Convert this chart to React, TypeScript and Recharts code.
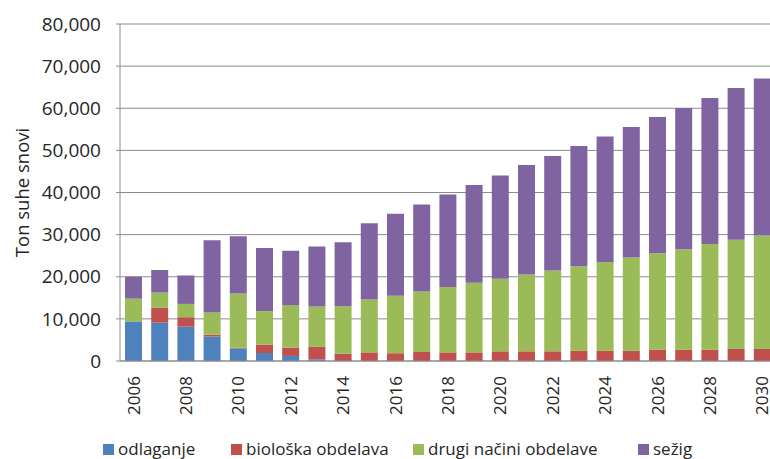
import React from 'react';
import { BarChart, Bar, XAxis, YAxis, CartesianGrid, Legend, Label } from 'recharts';

const years = ['2006','2007','2008','2009','2010','2011','2012','2013','2014','2015','2016','2017','2018','2019','2020','2021','2022','2023','2024','2025','2026','2027','2028','2029','2030'];
const odlaganje = [9400, 9100, 8150, 5800, 3000, 1900, 1200, 400, 0, 0, 0, 0, 0, 0, 0, 0, 0, 0, 0, 0, 0, 0, 0, 0, 0];
const bioloska = [0, 3500, 2250, 450, 150, 2000, 2000, 2950, 1700, 2050, 1850, 2150, 2050, 2050, 2300, 2300, 2300, 2450, 2450, 2450, 2700, 2700, 2700, 2850, 2850];
const drugi = [5400, 3650, 3150, 5350, 12850, 7950, 10050, 9600, 11300, 12550, 13650, 14350, 15500, 16500, 17200, 18250, 19200, 20050, 21050, 22100, 22900, 23850, 25050, 25950, 26950];
const sezig = [5200, 5350, 6750, 17050, 13600, 14950, 12950, 14250, 15200, 18100, 19450, 20650, 21950, 23250, 24550, 25950, 27150, 28550, 29800, 31000, 32300, 33500, 34700, 36000, 37250];
const yTicks = [0, 10000, 20000, 30000, 40000, 50000, 60000, 70000, 80000];

const seriesNames = ['odlaganje', 'biološka obdelava', 'drugi načini obdelave', 'sežig'];
const seriesKeys = ['odlaganje', 'bioloska', 'drugi', 'sezig'];
const seriesColors = ['#4f81bd', '#c0504d', '#9bbb59', '#8064a2'];
const legendLeft = [103, 231, 413, 638];

const data = years.map((y, i) => ({
  year: y,
  odlaganje: odlaganje[i],
  bioloska: bioloska[i],
  drugi: drugi[i],
  sezig: sezig[i],
}));

const FONT = '"Open Sans", sans-serif';
const TEXT = '#262626';
const GRID = '#8c8c8c';

const XTick = (props: any) => {
  const { x, y, payload } = props;
  return (
    <g transform={`translate(${x},${y})`}>
      <text transform="rotate(-90)" x={0} y={0} textAnchor="end" dominantBaseline="central"
        fontFamily={FONT} fontSize={17} fill={TEXT}>{payload.value}</text>
    </g>
  );
};

const LegendContent = () => (
  <div style={{ position: 'relative', width: 770, height: 38 }}>
    {seriesNames.map((n, i) => (
      <div key={n} style={{ position: 'absolute', left: legendLeft[i], top: 18, height: 20, lineHeight: '20px', display: 'flex', alignItems: 'center', fontFamily: FONT, fontSize: 17, color: TEXT, whiteSpace: 'nowrap' }}>
        <span style={{ display: 'inline-block', width: 11, height: 11, background: seriesColors[i], marginRight: 4 }} />
        <span style={{ lineHeight: '20px' }}>{n}</span>
      </div>
    ))}
  </div>
);

export default function App() {
  return (
    <div style={{ position: 'absolute', left: 0, top: 0, width: 770, height: 459, overflow: 'hidden', background: '#fff' }}>
      <BarChart width={775} height={459} data={data} margin={{ top: 24, right: 0, left: 0, bottom: 0 }} barSize={17}>
        <CartesianGrid horizontal={true} vertical={false} stroke={GRID} strokeWidth={1} />
        <XAxis dataKey="year" interval={1} tickLine={false} tickSize={0} tickMargin={15} height={60}
          axisLine={{ stroke: GRID }} tick={<XTick />} />
        <YAxis domain={[0, 80000]} ticks={yTicks} width={120} tickSize={4} tickMargin={15}
          axisLine={{ stroke: GRID }} tickLine={{ stroke: GRID }}
          tick={{ fontFamily: FONT, fontSize: 19, fill: TEXT }}
          tickFormatter={(v: number) => v.toLocaleString('en-US')}>
          <Label content={(p: any) => {
            const vb = p.viewBox || { x: 0, y: 24, width: 120, height: 337 };
            const cy = vb.y + vb.height / 2;
            return (
              <text x={21} y={cy} transform={`rotate(-90 21 ${cy})`} textAnchor="middle" dominantBaseline="central"
                fontFamily={FONT} fontSize={18.5} fill={TEXT}>Ton suhe snovi</text>
            );
          }} />
        </YAxis>
        <Legend verticalAlign="bottom" content={<LegendContent />} wrapperStyle={{ left: 0, width: 770 }} />
        {seriesKeys.map((k, i) => (
          <Bar key={k} dataKey={k} name={seriesNames[i]} stackId="a" fill={seriesColors[i]} isAnimationActive={false} />
        ))}
      </BarChart>
    </div>
  );
}
